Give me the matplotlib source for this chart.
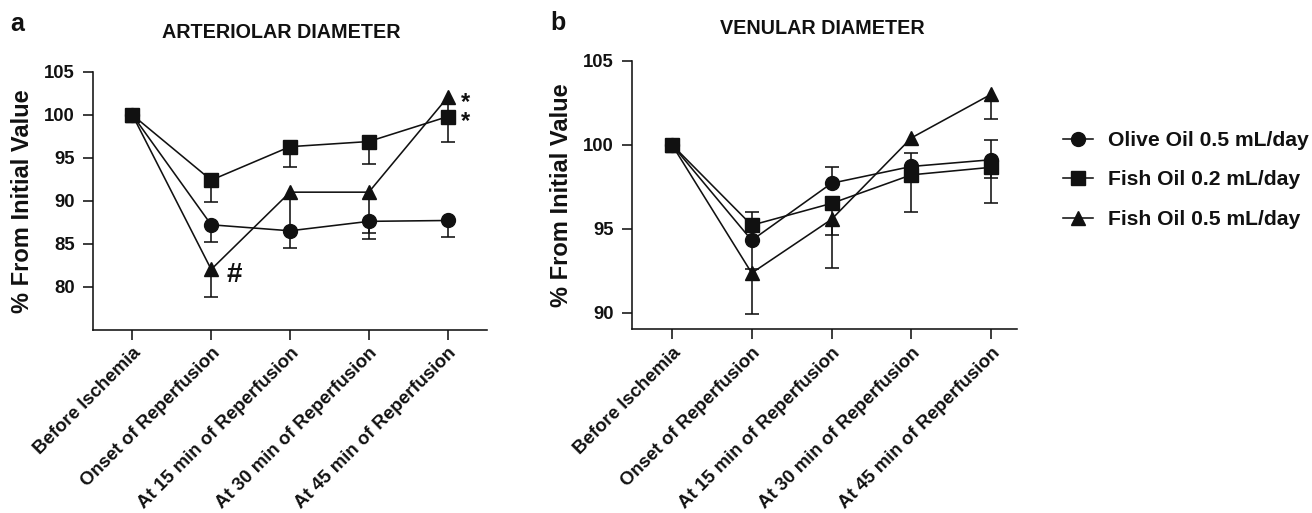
import numpy as np
import matplotlib
matplotlib.use("Agg")
import matplotlib.pyplot as plt

plt.rcParams['font.family'] = ['Liberation Sans', 'DejaVu Sans']
plt.rcParams['font.weight'] = 'bold'

TXT = '#111111'

timepoints = ["Before Ischemia", "Onset of Reperfusion", "At 15 min of Reperfusion",
              "At 30 min of Reperfusion", "At 45 min of Reperfusion"]
series_names = ["Olive Oil 0.5 mL/day", "Fish Oil 0.2 mL/day", "Fish Oil 0.5 mL/day"]
markers = ['o', 's', '^']

# Panel a: arteriolar diameter
art_olive = [100, 87.2, 86.5, 87.6, 87.7]
art_olive_lo = [0, 2.0, 2.0, 2.1, 1.9]
art_olive_hi = [0, 0, 0, 0, 0]
art_fish02 = [100, 92.4, 96.3, 96.9, 99.8]
art_fish02_lo = [0, 2.6, 2.4, 2.6, 2.9]
art_fish02_hi = [0, 0, 0, 0, 0]
art_fish05 = [100, 82.0, 91.0, 91.0, 102.05]
art_fish05_lo = [0, 3.2, 4.5, 4.8, 1.8]
art_fish05_hi = [0, 0, 0, 0, 0]

# Panel b: venular diameter
ven_olive = [100, 94.3, 97.7, 98.7, 99.1]
ven_olive_lo = [0, 1.7, 0, 0, 1.1]
ven_olive_hi = [0, 1.7, 0.95, 0.82, 1.15]
ven_fish02 = [100, 95.2, 96.5, 98.2, 98.65]
ven_fish02_lo = [0, 0, 1.9, 2.2, 2.1]
ven_fish02_hi = [0, 0, 0, 0, 0]
ven_fish05 = [100, 92.35, 95.55, 100.4, 103.0]
ven_fish05_lo = [0, 2.45, 2.9, 0, 1.45]
ven_fish05_hi = [0, 0, 0, 0, 0]

art_yticks = [80, 85, 90, 95, 100, 105]
ven_yticks = [90, 95, 100, 105]

fig = plt.figure(figsize=(13.12, 5.13), dpi=100)
W, H = 1312, 513
def rect(l, r, t, b):
    return [l / W, 1 - b / H, (r - l) / W, (b - t) / H]

axa = fig.add_axes(rect(93, 487, 72, 329.5))
axb = fig.add_axes(rect(632, 1016.7, 60.7, 329.3))

LW = 1.15
MS = 10

def draw_err(ax, x, y, lo, hi):
    x = np.asarray(x, float); y = np.asarray(y, float)
    lo = np.asarray(lo, float); hi = np.asarray(hi, float)
    for err, hide in ((lo, 1), (hi, 0)):
        m = err > 0
        if not m.any():
            continue
        if hide == 1:
            yerr = [err[m], np.zeros(m.sum())]
        else:
            yerr = [np.zeros(m.sum()), err[m]]
        c = ax.errorbar(x[m], y[m], yerr=yerr, fmt='none', ecolor=TXT,
                        elinewidth=LW, capsize=5, capthick=LW, zorder=2)
        c[1][hide].set_visible(False)

def panel(ax, data, ylim, yticks):
    x = np.arange(len(timepoints))
    handles = []
    for (y, lo, hi), mk, name in zip(data, markers, series_names):
        draw_err(ax, x, y, lo, hi)
        h, = ax.plot(x, y, marker=mk, color=TXT, lw=LW, ms=MS,
                     mec=TXT, mfc=TXT, label=name, zorder=3)
        handles.append(h)
    ax.set_ylim(*ylim)
    ax.set_yticks(yticks)
    ax.set_xticks(x)
    ax.set_xticklabels(timepoints, rotation=45, ha='right', va='top',
                       rotation_mode='anchor', fontsize=13.4, fontweight='bold', color=TXT)
    ax.tick_params(axis='y', labelsize=13.3, labelcolor=TXT, pad=6)
    ax.tick_params(length=7, width=LW, color=TXT, direction='out')
    ax.tick_params(axis='x', pad=4)
    for lab in ax.get_yticklabels():
        lab.set_fontweight('bold')
    for s in ['top', 'right']:
        ax.spines[s].set_visible(False)
    for s in ['left', 'bottom']:
        ax.spines[s].set_linewidth(LW)
        ax.spines[s].set_color(TXT)
    ax.set_ylabel("% From Initial Value", fontsize=17, fontweight='bold', color=TXT, labelpad=7)
    return handles

panel(axa, [(art_olive, art_olive_lo, art_olive_hi),
            (art_fish02, art_fish02_lo, art_fish02_hi),
            (art_fish05, art_fish05_lo, art_fish05_hi)],
      (75, 105), art_yticks)
axa.set_xlim(-0.5, 4.5)
handles = panel(axb, [(ven_olive, ven_olive_lo, ven_olive_hi),
                      (ven_fish02, ven_fish02_lo, ven_fish02_hi),
                      (ven_fish05, ven_fish05_lo, ven_fish05_hi)],
                (89, 105), ven_yticks)
axb.set_xlim(-0.5, 4.32)

# significance marks
axa.text(1.2, art_fish05[1] - 0.6, "#", fontsize=20, fontweight='bold', color=TXT,
         ha='left', va='center')
star_y = (art_fish05[4] + art_fish02[4]) / 2
axa.text(4.17, star_y - 0.6, "*\n*", fontsize=17, fontweight='bold', color=TXT,
         ha='left', va='center', linespacing=0.76)

# titles and panel letters
fig.text(281 / W, 1 - 32 / H, "ARTERIOLAR DIAMETER", fontsize=14.2, fontweight='bold',
         color=TXT, ha='center', va='center')
fig.text(822 / W, 1 - 28 / H, "VENULAR DIAMETER", fontsize=14.2, fontweight='bold',
         color=TXT, ha='center', va='center')
fig.text(10 / W, 1 - 24 / H, "a", fontsize=18, fontweight='bold', color=TXT,
         ha='left', va='center')
fig.text(550 / W, 1 - 23 / H, "b", fontsize=18, fontweight='bold', color=TXT,
         ha='left', va='center')

leg = fig.legend(handles=handles, loc='upper left', bbox_to_anchor=(1063 / W, 1 - 131 / H),
                 frameon=False, fontsize=15.2, handlelength=1.42, handletextpad=0.7,
                 labelspacing=0.97, borderaxespad=0, borderpad=0)
for t in leg.get_texts():
    t.set_color(TXT)
    t.set_fontweight('bold')

fig.savefig("out.png", dpi=100)
